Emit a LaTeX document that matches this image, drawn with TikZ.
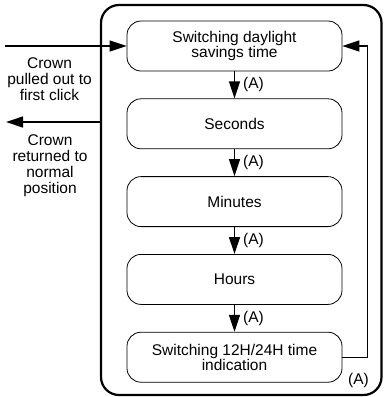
\documentclass[tikz,border=0pt]{standalone}
\usepackage{fontspec}
\setmainfont{Liberation Sans}
\usetikzlibrary{arrows.meta}
\begin{document}
\begin{tikzpicture}[x=1pt,y=-1pt,
  state/.style={draw,line width=0.8pt,rounded corners=14pt,minimum width=215pt,minimum height=50pt,inner sep=0pt,align=center,font=\fontsize{15.5}{15}\selectfont},
  lbl/.style={align=center,font=\fontsize{15.5}{15.8}\selectfont,inner sep=0pt},
  arr/.style={line width=1.3pt,-{Triangle[length=17pt,width=11pt]}},
  tag/.style={font=\fontsize{15.5}{16}\selectfont,inner sep=0pt}]
\useasboundingbox (0,0) rectangle (384,397);
\node[draw,line width=2.2pt,rounded corners=18pt,minimum width=280.5pt,minimum height=390pt,inner sep=0pt] (frame) at (241.25,200) {};
\node[state] (b1) at (234.5,46) {Switching daylight\\savings time};
\node[state] (b2) at (234.5,123.8) {Seconds};
\node[state] (b3) at (234.5,201.6) {Minutes};
\node[state] (b4) at (234.5,279.4) {Hours};
\node[state] (b5) at (234.5,357.2) {Switching 12H/24H time\\indication};
\draw[arr] (b1) -- (b2) node[tag,midway,anchor=west,xshift=8pt] (t1) {(A)};
\draw[arr] (b2) -- (b3) node[tag,midway,anchor=west,xshift=8pt] (t2) {(A)};
\draw[arr] (b3) -- (b4) node[tag,midway,anchor=west,xshift=8pt] (t3) {(A)};
\draw[arr] (b4) -- (b5) node[tag,midway,anchor=west,xshift=8pt] (t4) {(A)};
\draw[arr] (b5.east) -- ++(25,0) |- (b1.east);
\node[tag] (t5) at (358.5,380) {(A)};
\coordinate (inStart) at (5,46);
\draw[arr] (inStart) -- (b1.west);
\node[lbl] (l1) at (49.5,79) {Crown\\pulled out to\\first click};
\coordinate (outStart) at (101,122);
\coordinate (outEnd) at (6,122);
\draw[arr] (outStart) -- (outEnd);
\node[lbl] (l2) at (50,165.5) {Crown\\returned to\\normal\\position};
\end{tikzpicture}
\end{document}
